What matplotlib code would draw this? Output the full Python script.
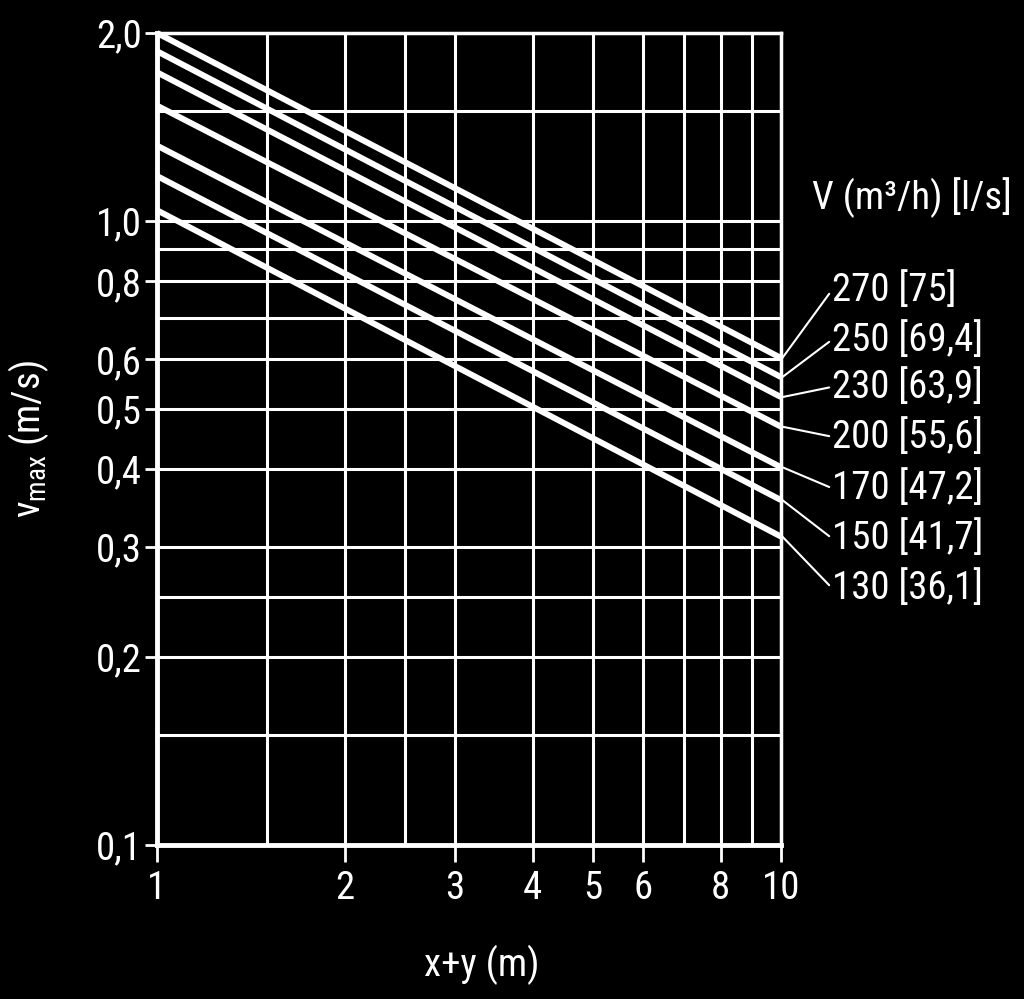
import matplotlib
matplotlib.use("Agg")
import matplotlib.pyplot as plt
from matplotlib.ticker import FixedLocator, FixedFormatter, NullFormatter

plt.rcParams['font.family'] = ['Roboto Condensed', 'Roboto', 'DejaVu Sans']
plt.rcParams['mathtext.fontset'] = 'custom'
plt.rcParams['mathtext.rm'] = 'Roboto Condensed'

# data: v_max at x+y = 1 m and at x+y = 10 m
flow_labels = ['270 [75]', '250 [69,4]', '230 [63,9]', '200 [55,6]',
               '170 [47,2]', '150 [41,7]', '130 [36,1]']
x_ends = [1, 10]
v_at_1 = [2.0, 1.87, 1.73, 1.53, 1.32, 1.18, 1.04]
v_at_10 = [0.603, 0.562, 0.522, 0.468, 0.403, 0.357, 0.312]

x_major = [1, 2, 3, 4, 5, 6, 8, 10]
x_minor = [1.5, 2.5, 7, 9]
y_major = [0.1, 0.2, 0.3, 0.4, 0.5, 0.6, 0.8, 1.0, 2.0]
y_major_labels = ['0,1', '0,2', '0,3', '0,4', '0,5', '0,6', '0,8', '1,0', '2,0']
y_minor = [0.15, 0.25, 0.7, 0.9, 1.5]

# where the curve labels sit (layout, right of the plot)
label_x = 12.07
label_y = [0.775, 0.645, 0.542, 0.451, 0.373, 0.310, 0.258]

fs = 28
fig = plt.figure(figsize=(10.24, 9.99), dpi=100, facecolor='black')
ax = fig.add_axes([157/1024, 154/999, 624/1024, 812/999])
ax.set_facecolor('black')
ax.set_xscale('log')
ax.set_yscale('log')
ax.set_xlim(1, 10)
ax.set_ylim(0.1, 2.0)

ax.xaxis.set_major_locator(FixedLocator(x_major))
ax.xaxis.set_major_formatter(FixedFormatter([str(v) for v in x_major]))
ax.xaxis.set_minor_locator(FixedLocator(x_minor))
ax.xaxis.set_minor_formatter(NullFormatter())
ax.yaxis.set_major_locator(FixedLocator(y_major))
ax.yaxis.set_major_formatter(FixedFormatter(y_major_labels))
ax.yaxis.set_minor_locator(FixedLocator(y_minor))
ax.yaxis.set_minor_formatter(NullFormatter())

ax.grid(True, which='both', color='white', lw=2.2)
ax.set_axisbelow(True)
ax.tick_params(which='minor', length=0)
ax.tick_params(axis='y', which='major', length=9, width=2, color='white',
               labelcolor='white', labelsize=fs, pad=2)
ax.tick_params(axis='x', which='major', length=12, width=2, color='white',
               labelcolor='white', labelsize=fs, pad=6)
for s in ax.spines.values():
    s.set_color('white')
    s.set_linewidth(2.5)
ax.spines['left'].set_linewidth(3.5)
ax.spines['bottom'].set_linewidth(3.5)

for lab, v1, v10, ly in zip(flow_labels, v_at_1, v_at_10, label_y):
    ax.plot(x_ends, [v1, v10], color='white', lw=4.3, solid_capstyle='butt',
            clip_on=False, zorder=3)
    ax.annotate(lab, xy=(10.05, v10), xytext=(label_x, ly),
                color='white', fontsize=fs, ha='left', va='center',
                annotation_clip=False,
                arrowprops=dict(arrowstyle='-', color='white', lw=1.5,
                                shrinkA=0, shrinkB=0, relpos=(0, 0.5)))

ax.text(11.2, 1.09, 'V (m³/h) [l/s]', color='white', fontsize=fs,
        ha='left', va='center')

ax.set_xlabel('x+y (m)', color='white', fontsize=fs)
ax.xaxis.set_label_coords(0.52, -0.123)
ax.set_ylabel(r'$\mathregular{v_{max}}$ (m/s)', color='white', fontsize=fs)
ax.yaxis.set_label_coords(-0.17, 0.5)

fig.savefig('out.png', dpi=100, facecolor='black')
